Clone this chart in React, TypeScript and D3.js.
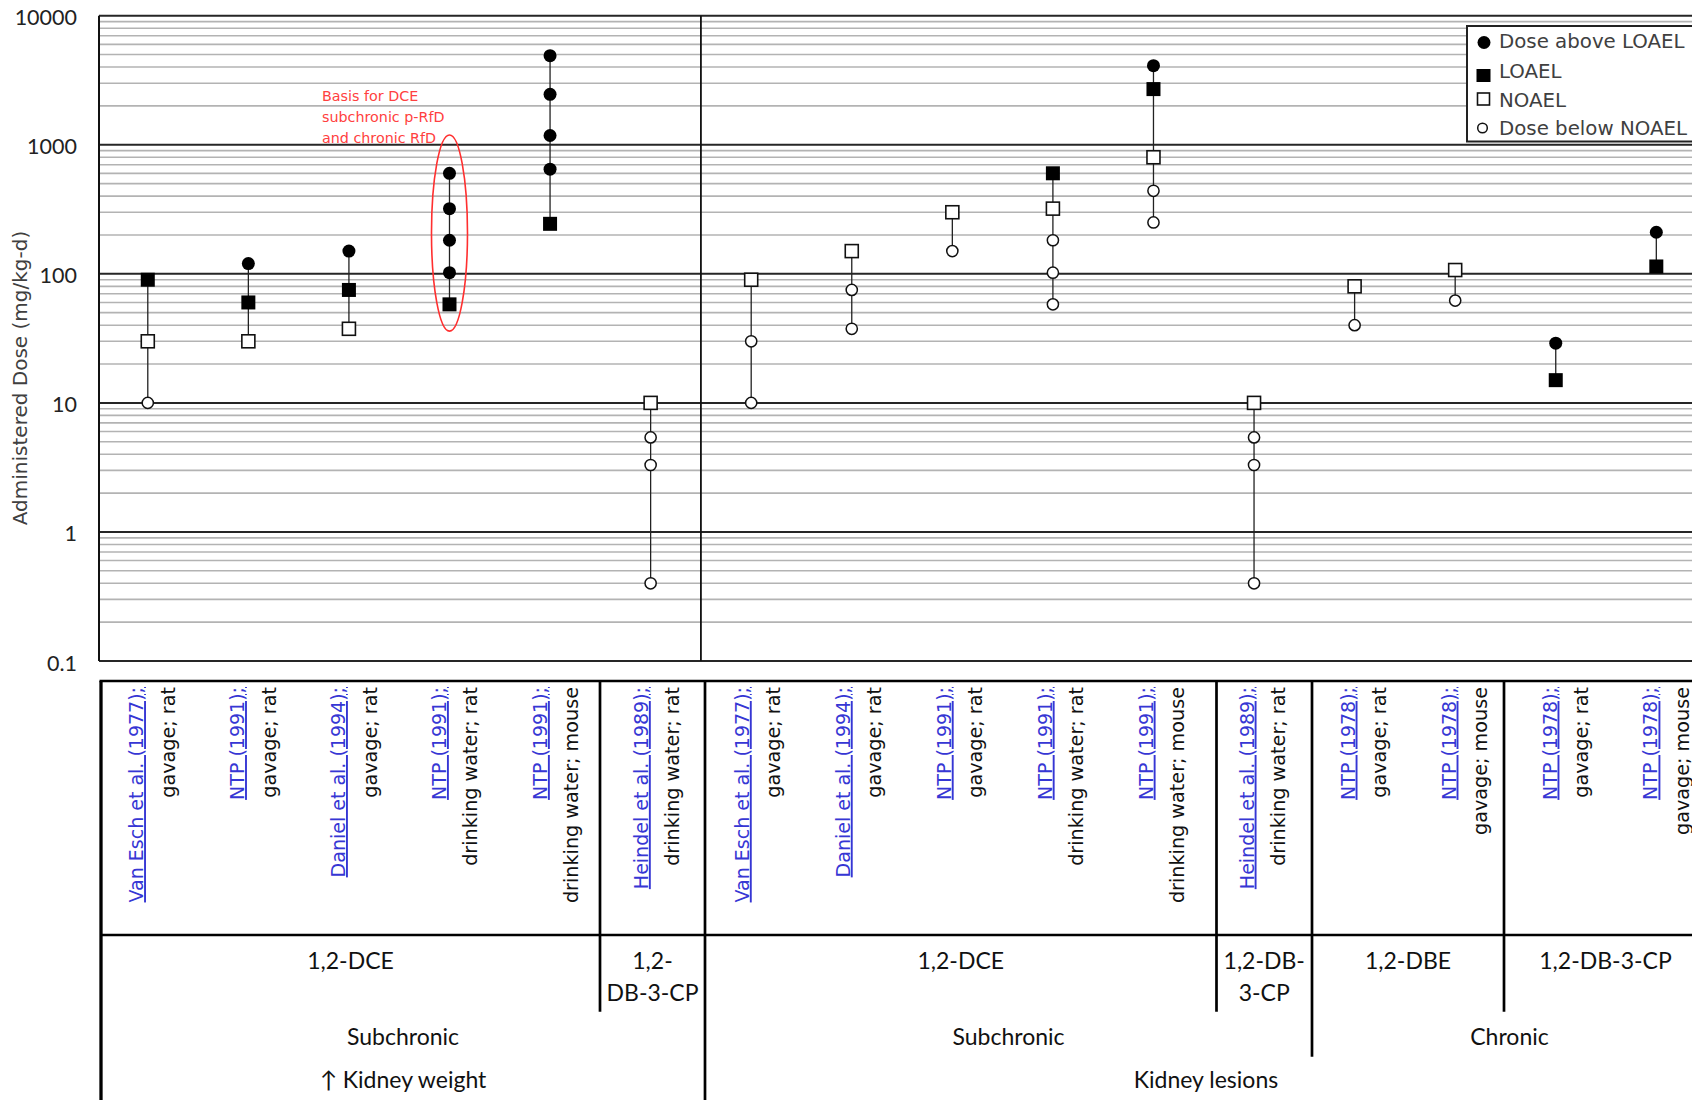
import React from "react";
import * as d3 from "d3";

// ---------- data ----------
const references: string[] = [
  "Van Esch et al. (1977);", "NTP (1991);", "Daniel et al. (1994);", "NTP (1991);", "NTP (1991);", "Heindel et al. (1989);",
  "Van Esch et al. (1977);", "Daniel et al. (1994);", "NTP (1991);", "NTP (1991);", "NTP (1991);", "Heindel et al. (1989);",
  "NTP (1978);", "NTP (1978);", "NTP (1978);", "NTP (1978);",
];
const routes: string[] = [
  "gavage; rat", "gavage; rat", "gavage; rat", "drinking water; rat", "drinking water; mouse", "drinking water; rat",
  "gavage; rat", "gavage; rat", "gavage; rat", "drinking water; rat", "drinking water; mouse", "drinking water; rat",
  "gavage; rat", "gavage; mouse", "gavage; rat", "gavage; mouse",
];
const doseAboveLOAEL: number[][] = [
  [], [120], [150], [102, 182, 320, 601], [647, 1180, 2460, 4900], [],
  [], [], [], [], [4100], [],
  [], [], [29], [210],
];
const LOAEL: (number | null)[] = [90, 60, 75, 58, 244, null, null, null, null, 601, 2700, null, null, null, 15, 114];
const NOAEL: (number | null)[] = [30, 30, 37.5, null, null, 10, 90, 150, 300, 320, 800, 10, 80, 107, null, null];
const doseBelowNOAEL: number[][] = [
  [10], [], [], [], [], [0.4, 3.3, 5.4],
  [10, 30], [37.5, 75], [150], [58, 102, 182], [250, 440], [0.4, 3.3, 5.4],
  [40], [62], [], [],
];
const yTickValues = [0.1, 1, 10, 100, 1000, 10000];
const yTickLabels = ["0.1", "1", "10", "100", "1000", "10000"];
const legendLabels = ["Dose above LOAEL", "LOAEL", "NOAEL", "Dose below NOAEL"];
const annotationLines = ["Basis for DCE", "subchronic p-RfD", "and chronic RfD"];
const annotationColumn = 3;
const annotationRange = [36, 1190];

const chemicalGroups = [
  { label: ["1,2-DCE"], from: 0, to: 5 },
  { label: ["1,2-", "DB-3-CP"], from: 5, to: 6 },
  { label: ["1,2-DCE"], from: 6, to: 11 },
  { label: ["1,2-DB-", "3-CP"], from: 11, to: 12 },
  { label: ["1,2-DBE"], from: 12, to: 14 },
  { label: ["1,2-DB-3-CP"], from: 14, to: 16 },
];
const durationGroups = [
  { label: "Subchronic", from: 0, to: 6 },
  { label: "Subchronic", from: 6, to: 12 },
  { label: "Chronic", from: 12, to: 16 },
];
const endpointGroups = [
  { label: "\u2191 Kidney weight", from: 0, to: 6 },
  { label: "Kidney lesions", from: 6, to: 16 },
];

// ---------- layout ----------
const W = 1692;
const H = 1100;
const plotLeft = 99;
const plotRight = 1730;
const plotTop = 15.7;
const plotBottom = 661;
const tableTop = 681;
const tableRow2 = 935;
const FONT_DV = "'DejaVu Sans', Verdana, sans-serif";
const FONT_CAL = "Lato, 'Open Sans', sans-serif";

export default function App() {
  const idx = d3.range(references.length);
  const x = d3.scaleBand<number>().domain(idx).range([97.5, 1706.6]).padding(0);
  const cx = (i: number) => (x(i) as number) + x.bandwidth() / 2;
  const y = d3.scaleLog().domain([0.1, 10000]).range([plotBottom, plotTop]);

  // table scales
  const tx = d3.scaleBand<number>().domain(idx).range([102.6, 1717.96]);
  const tcx = (i: number) => (tx(i) as number) + tx.bandwidth() / 2;
  const edge = d3.scaleLinear().domain([0, 5, 6, 11, 12, 14, 16]).range([101, 600, 705, 1216.5, 1312, 1504, 1707]);

  const minor: number[] = [];
  [0.1, 1, 10, 100, 1000].forEach((d) => {
    for (let k = 2; k <= 9; k++) minor.push(d * k);
  });

  const divider = x(6) as number;

  const ellTop = y(annotationRange[1]);
  const ellBot = y(annotationRange[0]);

  // legend
  const lgX = 1467;
  const lgY = 26;
  const lgMarkX = 1483.5;
  const lgTextX = 1499;
  const lgBase = [48.3, 78.3, 106.7, 135];
  const lgMarkY = [42.5, 75.5, 99, 128];

  return (
    <svg
      width={W}
      height={H}
      style={{ position: "absolute", left: 0, top: 0, background: "#fff" }}
      xmlns="http://www.w3.org/2000/svg"
    >
      <rect x={0} y={0} width={W} height={H} fill="#fff" />
      {/* minor gridlines */}
      <g>
        {minor.map((v, k) => (
          <line key={k} x1={plotLeft} x2={plotRight} y1={y(v)} y2={y(v)} stroke="#b3b3b3" strokeWidth={1.6} />
        ))}
      </g>
      {/* major gridlines */}
      <g>
        {yTickValues.map((v, k) => (
          <line key={k} x1={plotLeft} x2={plotRight} y1={y(v)} y2={y(v)} stroke="#262626" strokeWidth={2} />
        ))}
      </g>
      <line x1={plotLeft} x2={plotLeft} y1={plotTop} y2={plotBottom} stroke="#111" strokeWidth={2} />
      <line x1={divider} x2={divider} y1={plotTop} y2={plotBottom} stroke="#111" strokeWidth={1.8} />

      {/* y tick labels */}
      {yTickValues.map((v, k) => (
        <text
          key={k}
          x={77}
          y={y(v) + 1.5}
          textAnchor="end"
          dominantBaseline="central"
          fontFamily={FONT_CAL}
          fontSize={21.5}
          fill="#222"
        >
          {yTickLabels[k]}
        </text>
      ))}
      <text
        transform={`translate(19.5,378) rotate(-90)`}
        textAnchor="middle"
        dominantBaseline="central"
        fontFamily={FONT_DV}
        fontSize={20}
        fill="#404040"
      >
        Administered Dose (mg/kg-d)
      </text>

      {/* connectors */}
      {idx.map((i) => {
        const vals = [...doseAboveLOAEL[i], ...doseBelowNOAEL[i]];
        if (LOAEL[i] != null) vals.push(LOAEL[i] as number);
        if (NOAEL[i] != null) vals.push(NOAEL[i] as number);
        const [lo, hi] = d3.extent(vals) as [number, number];
        return <line key={i} x1={cx(i)} x2={cx(i)} y1={y(lo)} y2={y(hi)} stroke="#222" strokeWidth={1.3} />;
      })}

      {/* markers */}
      {idx.map((i) => (
        <g key={i}>
          {doseBelowNOAEL[i].map((v, k) => (
            <circle key={"b" + k} cx={cx(i)} cy={y(v)} r={5.6} fill="#fff" stroke="#111" strokeWidth={1.5} />
          ))}
          {NOAEL[i] != null && (
            <rect
              x={cx(i) - 6.5}
              y={y(NOAEL[i] as number) - 6.5}
              width={13}
              height={13}
              fill="#fff"
              stroke="#111"
              strokeWidth={1.6}
            />
          )}
          {LOAEL[i] != null && (
            <rect x={cx(i) - 7} y={y(LOAEL[i] as number) - 7} width={14} height={14} fill="#000" />
          )}
          {doseAboveLOAEL[i].map((v, k) => (
            <circle key={"a" + k} cx={cx(i)} cy={y(v)} r={6.5} fill="#000" />
          ))}
        </g>
      ))}

      {/* annotation */}
      <ellipse
        cx={cx(annotationColumn)}
        cy={(ellTop + ellBot) / 2}
        rx={18}
        ry={(ellBot - ellTop) / 2}
        fill="none"
        stroke="#ff2f2f"
        strokeWidth={1.6}
      />
      {annotationLines.map((t, k) => (
        <text
          key={k}
          x={322}
          y={95.7 + k * 21.3}
          dominantBaseline="central"
          fontFamily={FONT_DV}
          fontSize={14.3}
          fill="#ff4040"
        >
          {t}
        </text>
      ))}

      {/* legend */}
      <rect x={lgX} y={lgY} width={300} height={115.5} fill="#fff" stroke="#222" strokeWidth={2} />
      <circle cx={lgMarkX + 0.5} cy={lgMarkY[0]} r={6.5} fill="#000" />
      <rect x={lgMarkX - 7} y={lgMarkY[1] - 6.5} width={14} height={13} fill="#000" />
      <rect x={lgMarkX - 6} y={lgMarkY[2] - 6} width={12} height={12} fill="#fff" stroke="#111" strokeWidth={1.6} />
      <circle cx={lgMarkX - 1} cy={lgMarkY[3]} r={4.8} fill="#fff" stroke="#111" strokeWidth={1.5} />
      {legendLabels.map((t, k) => (
        <text key={k} x={lgTextX} y={lgBase[k]} fontFamily={FONT_DV} fontSize={19.8} fill="#404040">
          {t}
        </text>
      ))}

      {/* table */}
      <g stroke="#000" strokeWidth={2.7}>
        <line x1={99.5} x2={plotRight} y1={tableTop} y2={tableTop} />
        <line x1={101} x2={plotRight} y1={tableRow2} y2={tableRow2} />
        <line x1={101} x2={101} y1={tableTop} y2={H} strokeWidth={3.3} />
        {[5, 11, 14].map((b) => (
          <line key={b} x1={edge(b)} x2={edge(b)} y1={tableTop} y2={1011.7} />
        ))}
        <line x1={edge(12)} x2={edge(12)} y1={tableTop} y2={1056.7} />
        <line x1={edge(6)} x2={edge(6)} y1={tableTop} y2={H} />
      </g>

      {/* rotated study labels */}
      {idx.map((i) => {
        const c = tcx(i);
        return (
          <g key={i}>
            <text
              transform={`translate(${c - 10},687) rotate(-90)`}
              textAnchor="end"
              fontFamily={FONT_DV}
              fontSize={19}
              fill="#3636d4"
              textDecoration="underline"
            >
              {references[i]}
            </text>
            <text
              transform={`translate(${c + 21.5},687) rotate(-90)`}
              textAnchor="end"
              fontFamily={FONT_DV}
              fontSize={19.2}
              fill="#111"
            >
              {routes[i]}
            </text>
          </g>
        );
      })}

      {/* group labels */}
      {chemicalGroups.map((g, k) => (
        <text
          key={k}
          x={(edge(g.from) + edge(g.to)) / 2}
          textAnchor="middle"
          fontFamily={FONT_CAL}
          fontSize={23}
          fill="#111"
        >
          {g.label.map((l, j) => (
            <tspan key={j} x={(edge(g.from) + edge(g.to)) / 2} y={969.3 + j * 31.5}>
              {l}
            </tspan>
          ))}
        </text>
      ))}
      {durationGroups.map((g, k) => (
        <text
          key={k}
          x={(edge(g.from) + edge(g.to)) / 2}
          y={1045}
          textAnchor="middle"
          fontFamily={FONT_CAL}
          fontSize={23}
          fill="#111"
        >
          {g.label}
        </text>
      ))}
      {endpointGroups.map((g, k) => (
        <text
          key={k}
          x={(edge(g.from) + edge(g.to)) / 2}
          y={1088.3}
          textAnchor="middle"
          fontFamily={FONT_CAL}
          fontSize={23}
          fill="#111"
        >
          {g.label}
        </text>
      ))}
    </svg>
  );
}
